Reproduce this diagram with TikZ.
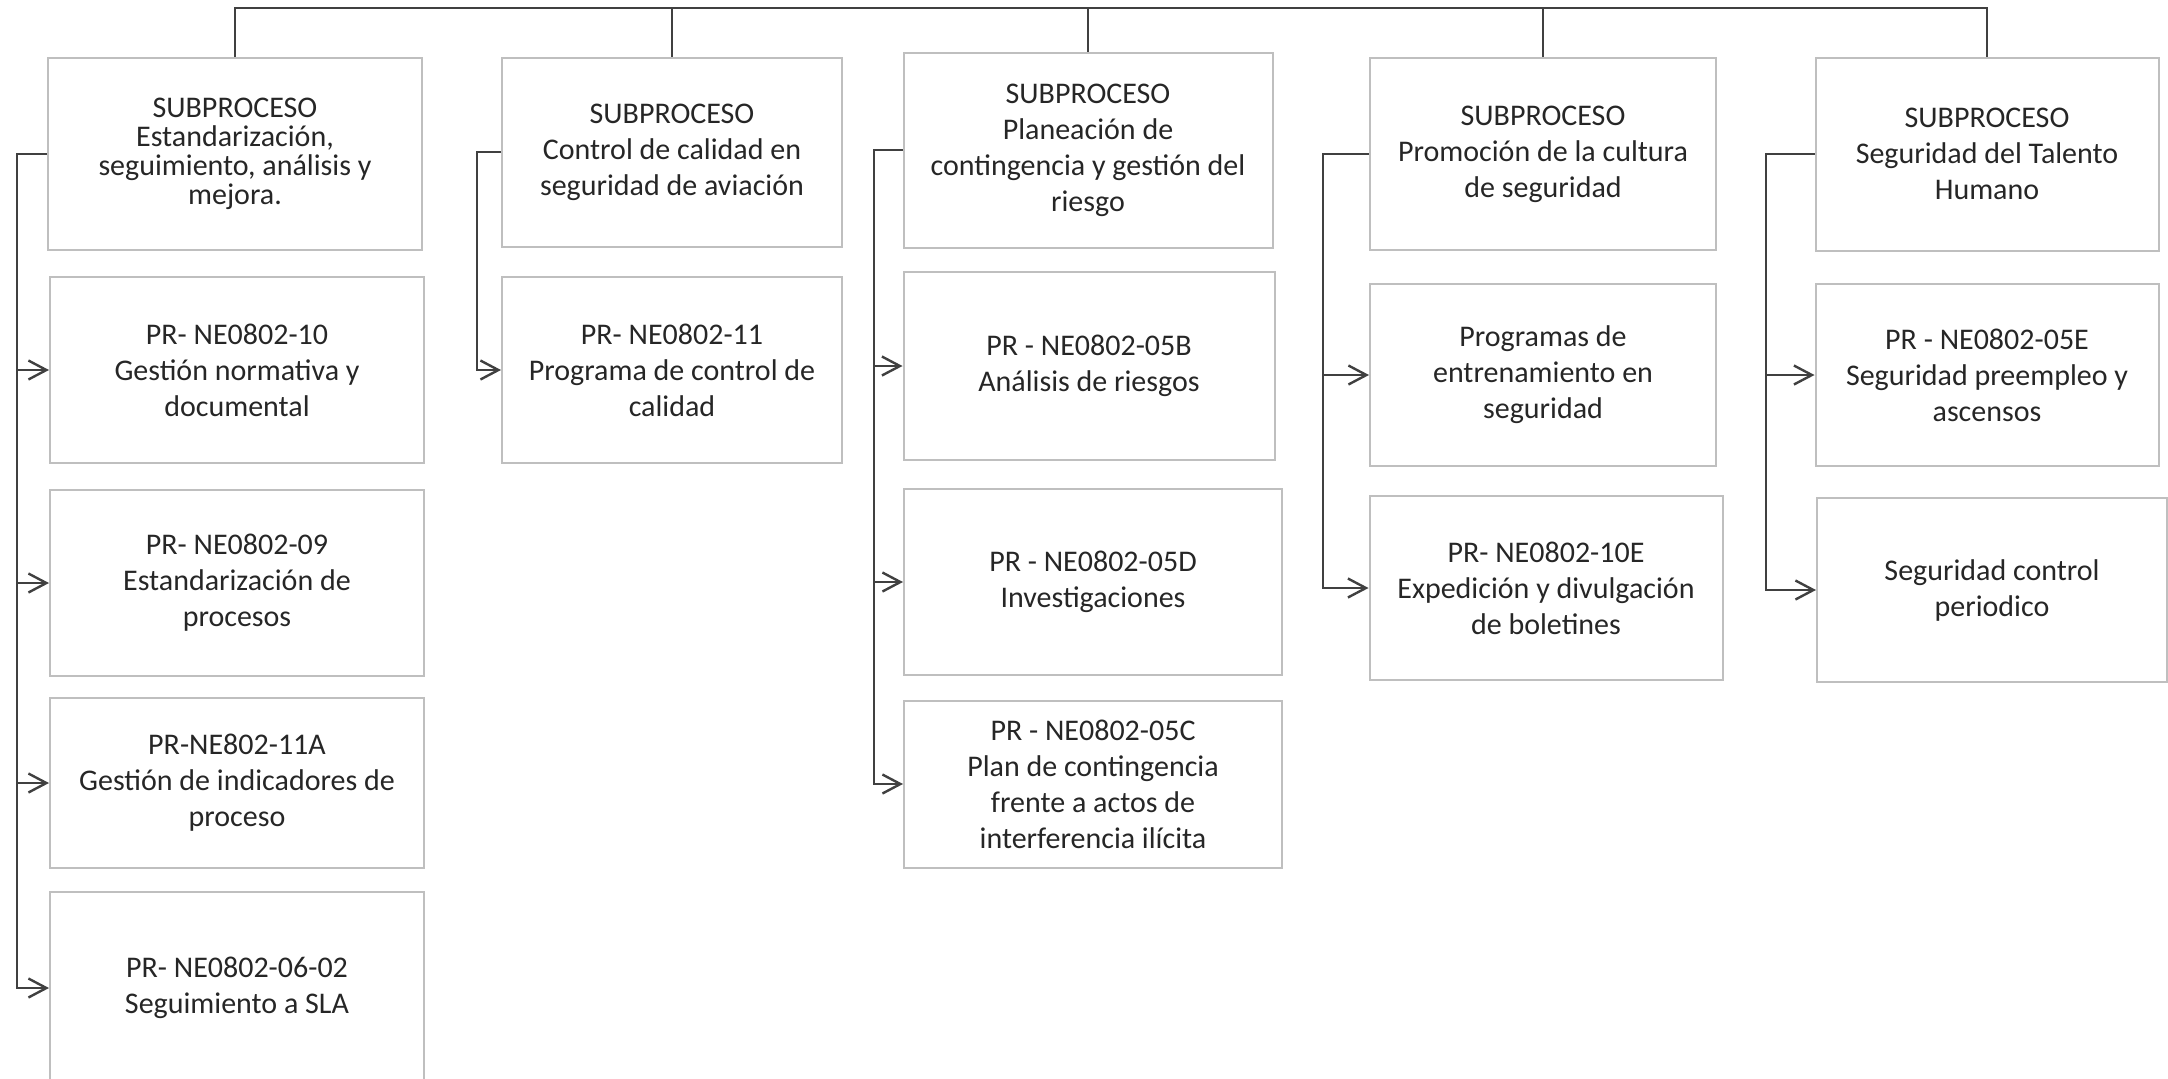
\documentclass[tikz,border=0pt]{standalone}
\usepackage{fontspec}
\setmainfont{Carlito}
\usetikzlibrary{arrows.meta}
\definecolor{boxgray}{HTML}{BFBFBF}
\definecolor{linegray}{HTML}{404040}
\definecolor{textgray}{HTML}{262626}

\begin{document}
\begin{tikzpicture}
  [
    x=0.5pt, y=-0.5pt,
    Sub/.style={rectangle, draw=boxgray, line width=1pt, align=center, inner sep=0pt, text=textgray, font=\fontsize{15}{18}\selectfont},
    Proc/.style={Sub},
    Line/.style={draw=linegray, line width=1.2pt},
    Link/.style={Line, -{Straight Barb[length=9pt, width=9.5pt]}}
  ]
  \useasboundingbox (0,0) rectangle (2168,1078);

  % Nodes
  \node[Sub, minimum width=187pt, minimum height=96pt, font=\fontsize{15}{14.6}\selectfont] (s1) at(235, 154) {SUBPROCESO\\Estandarización,\\seguimiento, análisis y\\mejora.};
  \node[Proc, minimum width=187pt, minimum height=93pt] (c1a) at(237, 370) {PR- NE0802-10\\Gestión normativa y\\documental};
  \node[Proc, minimum width=187pt, minimum height=93pt] (c1b) at(237, 583) {PR- NE0802-09\\Estandarización de\\procesos};
  \node[Proc, minimum width=187pt, minimum height=85pt] (c1c) at(237, 783) {PR-NE802-11A\\Gestión de indicadores de\\proceso};
  \node[Proc, minimum width=187pt, minimum height=96pt] (c1d) at(237, 988) {PR- NE0802-06-02\\Seguimiento a SLA};

  \node[Sub, minimum width=170pt, minimum height=94.5pt] (s2) at(672, 152) {SUBPROCESO\\Control de calidad en\\seguridad de aviación};
  \node[Proc, minimum width=170pt, minimum height=93pt] (c2a) at(672, 370) {PR- NE0802-11\\Programa de control de\\calidad};

  \node[Sub, minimum width=184.5pt, minimum height=97.5pt] (s3) at(1088, 150) {SUBPROCESO\\Planeación de\\contingencia y gestión del\\riesgo};
  \node[Proc, minimum width=185.5pt, minimum height=94pt] (c3a) at(1089, 366) {PR - NE0802-05B\\Análisis de riesgos};
  \node[Proc, minimum width=189pt, minimum height=93pt] (c3b) at(1093, 582) {PR - NE0802-05D\\Investigaciones};
  \node[Proc, minimum width=189pt, minimum height=83.5pt] (c3c) at(1093, 784) {PR - NE0802-05C\\Plan de contingencia\\frente a actos de\\interferencia ilícita};

  \node[Sub, minimum width=173pt, minimum height=96pt] (s4) at(1543, 154) {SUBPROCESO\\Promoción de la cultura\\de seguridad};
  \node[Proc, minimum width=173pt, minimum height=91pt] (c4a) at(1543, 375) {Programas de\\entrenamiento en\\seguridad};
  \node[Proc, minimum width=176.5pt, minimum height=92pt] (c4b) at(1546, 588) {PR- NE0802-10E\\Expedición y divulgación\\de boletines};

  \node[Sub, minimum width=171.5pt, minimum height=96.5pt] (s5) at(1987, 154) {SUBPROCESO\\Seguridad del Talento\\Humano};
  \node[Proc, minimum width=171.5pt, minimum height=91pt] (c5a) at(1987, 375) {PR - NE0802-05E\\Seguridad preempleo y\\ascensos};
  \node[Proc, minimum width=175pt, minimum height=92pt] (c5b) at(1992, 590) {Seguridad control\\periodico};

  % Spines
  \coordinate (top) at(0, 8);
  \coordinate (b1) at(17, 0);
  \coordinate (b2) at(477, 0);
  \coordinate (b3) at(874, 0);
  \coordinate (b4) at(1323, 0);
  \coordinate (b5) at(1766, 0);

  % Lines
  \path [Line] (s1.north) -- (s1.north |- top) -- (s5.north |- top) -- (s5.north);
  \path [Line] (s2.north) -- (s2.north |- top);
  \path [Line] (s3.north) -- (s3.north |- top);
  \path [Line] (s4.north) -- (s4.north |- top);

  \path [Link] (s1.west) -- (s1.west -| b1) |- (c1d.west);
  \path [Link] (c1a.west -| b1) -- (c1a.west);
  \path [Link] (c1b.west -| b1) -- (c1b.west);
  \path [Link] (c1c.west -| b1) -- (c1c.west);

  \path [Link] (s2.west) -- (s2.west -| b2) |- (c2a.west);

  \path [Link] (s3.west) -- (s3.west -| b3) |- (c3c.west);
  \path [Link] (c3a.west -| b3) -- (c3a.west);
  \path [Link] (c3b.west -| b3) -- (c3b.west);

  \path [Link] (s4.west) -- (s4.west -| b4) |- (c4b.west);
  \path [Link] (c4a.west -| b4) -- (c4a.west);

  \path [Link] (s5.west) -- (s5.west -| b5) |- (c5b.west);
  \path [Link] (c5a.west -| b5) -- (c5a.west);

\end{tikzpicture}
\end{document}
